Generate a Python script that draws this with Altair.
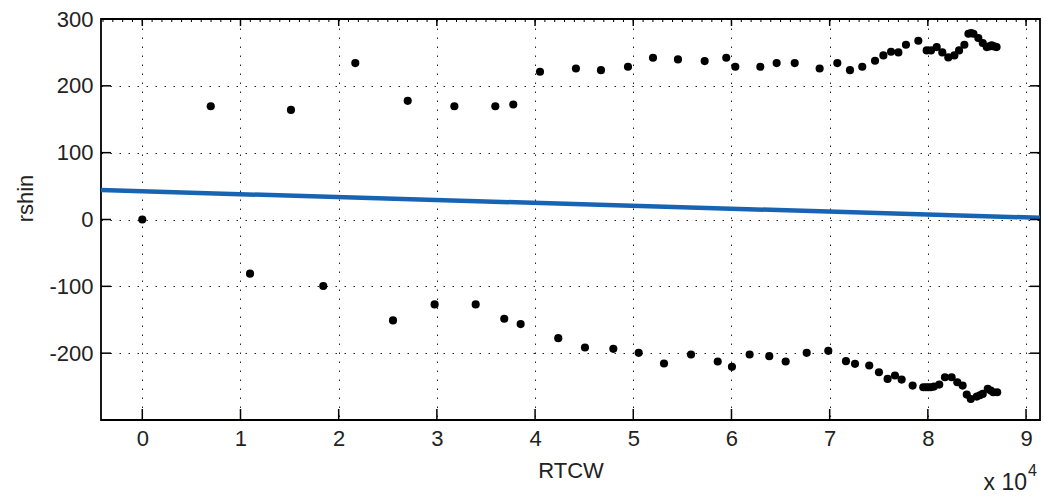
import altair as alt
import pandas as pd

# ---- data ----
upper_x = [0, 6970, 15140, 21690, 27030, 31780, 35950, 37780, 40500, 44160, 46710, 49460,
           52010, 54550, 57270, 59470, 60390, 62940, 64600, 66440, 68980, 70780, 72070,
           73320, 74620, 75470, 76250, 77000, 77770, 79030, 79880, 80320, 80900, 81470,
           82080, 82700, 83180, 83720, 84130, 84400, 84640, 85140, 85590, 85990, 86250,
           86500, 86750, 87000]
upper_y = [0, 169.5, 164, 234, 177.5, 169.5, 169.5, 172, 221, 226, 223.5, 228.5,
           242, 239.5, 237, 242, 228.5, 228.5, 234, 234, 226, 234, 223.5,
           228.5, 237.5, 245.5, 251, 250, 261.5, 267.5, 253, 253, 258, 250,
           242.5, 245.5, 253, 261.5, 278, 279, 278, 271.5, 264, 258, 259,
           260.5, 259, 258]

lower_x = [10970, 18430, 25530, 29770, 33950, 36860, 38530, 42360, 45080, 47970, 50550,
           53130, 55880, 58600, 60050, 61850, 63850, 65520, 67660, 69860, 71660, 72580,
           74030, 75020, 75900, 76650, 77330, 78450, 79530, 79800, 80040, 80300, 80620,
           81160, 81740, 82420, 83000, 83540, 83960, 84370, 84980, 85300, 85590, 86100,
           86400, 86660, 87060]
lower_y = [-81, -99.5, -151, -127, -127, -148.5, -156.5, -177.5, -191.5, -193.5, -199.5,
           -215.5, -202, -212.5, -220.5, -202, -204.5, -212.5, -199.5, -196.5, -212, -216,
           -218.5, -228.5, -238.5, -233.5, -239.5, -248.5, -251, -251, -251, -251, -250,
           -247, -236, -236, -243.5, -248.5, -262, -268.5, -265, -263, -261, -253.5,
           -256, -258.5, -258.5]

fit_x = [-4206, 91420]
fit_y = [44, 2.5]

x_ticks = [0, 10000, 20000, 30000, 40000, 50000, 60000, 70000, 80000, 90000]
y_ticks = [-300, -200, -100, 0, 100, 200, 300]
y_labels = [-200, -100, 0, 100, 200, 300]
x_minor = list(range(-4000, 92000, 1000))

X_DOMAIN = [-4206, 91420]
Y_DOMAIN = [-300, 300]
W, H = 939, 401
FONT = "Liberation Sans"
TXT = "#222222"

pts = pd.DataFrame({"x": upper_x + lower_x, "y": upper_y + lower_y})
fit = pd.DataFrame({"x": fit_x, "y": fit_y})
xt = pd.DataFrame({"x": x_ticks})
yt = pd.DataFrame({"y": y_ticks})
xm = pd.DataFrame({"x": x_minor})

xs = alt.Scale(domain=X_DOMAIN, nice=False, zero=False)
ys = alt.Scale(domain=Y_DOMAIN, nice=False, zero=False)

x_axis = alt.Axis(values=x_ticks, labelExpr="'' + (datum.value / 10000)", title="RTCW",
                  grid=True, gridDash=[1.5, 7.5], gridColor="#000000", gridOpacity=0.85,
                  tickSize=0, domain=False, labelPadding=8, labelFontSize=22,
                  labelFont=FONT, labelColor=TXT, titleFont=FONT, titleFontSize=22,
                  titleFontWeight="normal", titleColor=TXT, titleY=50,
                  titleBaseline="middle")
y_axis = alt.Axis(values=y_labels, labelExpr="'' + datum.value", title="rshin", grid=True,
                  gridDash=[1.5, 7.5], gridColor="#000000", gridOpacity=0.85, tickSize=0,
                  domain=False, labelPadding=8, labelFontSize=22, labelFont=FONT,
                  labelColor=TXT, titleFont=FONT, titleFontSize=22,
                  titleFontWeight="normal", titleColor=TXT, titleX=-76, titleY=179,
                  titleAngle=270, titleBaseline="middle", titleAlign="center")

points = alt.Chart(pts).mark_circle(size=66, color="#000000", opacity=1).encode(
    x=alt.X("x:Q", scale=xs, axis=x_axis),
    y=alt.Y("y:Q", scale=ys, axis=y_axis),
)

line = alt.Chart(fit).mark_line(color="#1864b4", strokeWidth=4.5, clip=True).encode(
    x=alt.X("x:Q", scale=xs), y=alt.Y("y:Q", scale=ys)
)

tick_b = alt.Chart(xt).mark_rule(color="#000", strokeWidth=1.5).encode(
    x=alt.X("x:Q", scale=xs), y=alt.value(H), y2=alt.value(H - 11))
tick_t = alt.Chart(xt).mark_rule(color="#000", strokeWidth=1.5).encode(
    x=alt.X("x:Q", scale=xs), y=alt.value(0), y2=alt.value(7))
minor_t = alt.Chart(xm).mark_rule(color="#000", strokeWidth=1).encode(
    x=alt.X("x:Q", scale=xs), y=alt.value(0), y2=alt.value(3))
tick_l = alt.Chart(yt).mark_rule(color="#000", strokeWidth=1.5).encode(
    y=alt.Y("y:Q", scale=ys), x=alt.value(0), x2=alt.value(10))
tick_r = alt.Chart(yt).mark_rule(color="#000", strokeWidth=1.5).encode(
    y=alt.Y("y:Q", scale=ys), x=alt.value(W), x2=alt.value(W - 10))

exp_base = alt.Chart(pd.DataFrame({"t": ["x 10"]})).mark_text(
    font=FONT, fontSize=23, color=TXT, align="right", baseline="middle").encode(
    text="t:N", x=alt.value(926), y=alt.value(464))
exp_sup = alt.Chart(pd.DataFrame({"t": ["4"]})).mark_text(
    font=FONT, fontSize=16, color=TXT, align="left", baseline="middle").encode(
    text="t:N", x=alt.value(927), y=alt.value(452))

chart = alt.layer(points, line, tick_b, tick_t, minor_t, tick_l, tick_r, exp_base, exp_sup).properties(
    width=W, height=H,
    autosize=alt.AutoSizeParams(type="none"),
    padding={"left": 101, "top": 19, "right": 4, "bottom": 79},
    background="#ffffff",
).configure_view(stroke="#000000", strokeWidth=1.8)

chart.save("out.html", embed_options={"renderer": "svg", "actions": False})
